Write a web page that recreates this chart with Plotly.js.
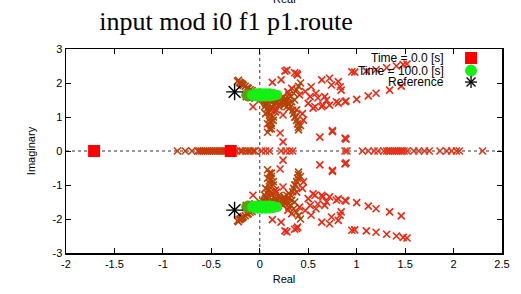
<!DOCTYPE html>
<html>
<head>
<meta charset="utf-8">
<script src="https://cdn.plot.ly/plotly-3.0.1.min.js"></script>
<style>html,body{margin:0;padding:0;background:#fff;}#chart{width:521px;height:294px;}</style>
</head>
<body>
<div id="chart"></div>
<script>
// ---- data ----
const startX = [-1.71, -0.30];
const startY = [0, 0];

const refX = [-0.26, -0.26];
const refY = [1.74, -1.74];

const greenX = [-0.08,-0.05,-0.05,-0.02,-0.02,0.02,0.02,0.06,0.06,0.10,0.10,0.14,0.14,0.18,0.00,0.04,0.08,0.12,
                -0.08,-0.05,-0.05,-0.02,-0.02,0.02,0.02,0.06,0.06,0.10,0.10,0.14,0.14,0.18,0.00,0.04,0.08,0.12];
const greenY = [1.65,1.61,1.69,1.60,1.70,1.60,1.70,1.60,1.70,1.60,1.70,1.62,1.68,1.65,1.65,1.65,1.65,1.65,
                -1.65,-1.61,-1.69,-1.60,-1.70,-1.60,-1.70,-1.60,-1.70,-1.60,-1.70,-1.62,-1.68,-1.65,-1.65,-1.65,-1.65,-1.65];

const oliveX = [-0.14,-0.12,-0.12,-0.14,-0.12,-0.12];
const oliveY = [1.64,1.60,1.68,-1.64,-1.60,-1.68];

const brownX = [-0.23,-0.21,-0.20,-0.18,-0.17,-0.15,-0.13,-0.12,-0.10,-0.08,-0.22,-0.19,0.00,0.04,0.05,0.06,0.07,0.08,0.09,0.10,0.10,0.11,0.12,0.12,0.10,0.13,0.15,0.18,0.20,0.20,0.22,0.25,0.28,0.30,0.32,0.35,0.38,0.40,0.42,0.30,0.32,0.34,0.35,0.37,0.38,0.39,0.40,0.40,0.25,0.15,0.08,0.14,
                0.02,0.06,0.10,0.14,0.18,0.22,0.26,0.16,0.20,0.05,0.12,0.06,0.14,0.08,0.28,0.33,0.36,-0.05,-0.10,-0.14,0.24,0.30,0.36,0.42,
                -0.23,-0.21,-0.20,-0.18,-0.17,-0.15,-0.13,-0.12,-0.10,-0.08,-0.22,-0.19,0.00,0.04,0.05,0.06,0.07,0.08,0.09,0.10,0.10,0.11,0.12,0.12,0.10,0.13,0.15,0.18,0.20,0.20,0.22,0.25,0.28,0.30,0.32,0.35,0.38,0.40,0.42,0.30,0.32,0.34,0.35,0.37,0.38,0.39,0.40,0.40,0.25,0.15,0.08,0.14,
                0.02,0.06,0.10,0.14,0.18,0.22,0.26,0.16,0.20,0.05,0.12,0.06,0.14,0.08,0.28,0.33,0.36,-0.05,-0.10,-0.14,0.24,0.30,0.36,0.42];
const brownY = [2.05,2.02,2.00,1.96,1.93,1.90,1.86,1.84,1.80,1.78,2.08,1.98,1.50,1.50,1.45,1.40,1.35,1.25,1.15,1.05,0.95,0.85,0.75,0.65,1.50,1.45,1.55,1.45,1.50,1.38,1.55,1.50,1.52,1.55,1.60,1.70,1.80,1.90,2.00,1.40,1.30,1.20,1.10,1.00,0.90,0.80,0.70,0.62,1.35,1.35,0.55,1.00,
                1.55,1.52,1.55,1.50,1.55,1.45,1.42,1.42,1.30,1.30,1.20,1.10,0.90,0.80,1.30,1.45,1.50,1.55,1.58,1.60,1.60,1.65,1.00,0.75,
                -2.05,-2.02,-2.00,-1.96,-1.93,-1.90,-1.86,-1.84,-1.80,-1.78,-2.08,-1.98,-1.50,-1.50,-1.45,-1.40,-1.35,-1.25,-1.15,-1.05,-0.95,-0.85,-0.75,-0.65,-1.50,-1.45,-1.55,-1.45,-1.50,-1.38,-1.55,-1.50,-1.52,-1.55,-1.60,-1.70,-1.80,-1.90,-2.00,-1.40,-1.30,-1.20,-1.10,-1.00,-0.90,-0.80,-0.70,-0.62,-1.35,-1.35,-0.55,-1.00,
                -1.55,-1.52,-1.55,-1.50,-1.55,-1.45,-1.42,-1.42,-1.30,-1.30,-1.20,-1.10,-0.90,-0.80,-1.30,-1.45,-1.50,-1.55,-1.58,-1.60,-1.60,-1.65,-1.00,-0.75];

const redX = [0.26,0.36,0.39,0.13,0.22,0.33,0.64,0.72,0.81,0.74,0.83,0.52,0.60,0.69,0.55,0.64,0.72,0.81,0.89,1.00,1.12,1.20,1.34,1.46,0.45,0.62,0.75,0.89,0.10,0.21,0.24,0.12,0.95,0.98,1.10,1.20,1.31,1.41,1.48,1.52,0.28,0.38,0.53,0.57,0.65,0.79,0.88,0.17,0.24,0.38,-0.07,0.29,0.41,0.67,0.47,0.50,0.30,0.16,0.44,0.58,0.84,0.75,0.88,
              0.26,0.36,0.39,0.13,0.22,0.33,0.64,0.72,0.81,0.74,0.83,0.52,0.60,0.69,0.55,0.64,0.72,0.81,0.89,1.00,1.12,1.20,1.34,1.46,0.45,0.62,0.75,0.89,0.10,0.21,0.24,0.12,0.95,0.98,1.10,1.20,1.31,1.41,1.48,1.52,0.28,0.38,0.53,0.57,0.65,0.79,0.88,0.17,0.24,0.38,-0.07,0.29,0.41,0.67,0.47,0.50,0.30,0.16,0.44,0.58,0.84,0.75,0.88];
const redY = [2.35,2.30,2.24,2.02,2.09,1.84,2.09,2.14,2.04,1.94,1.89,1.60,1.56,1.50,1.26,1.30,1.35,1.41,1.47,1.52,1.62,1.70,1.79,1.91,0.91,0.41,0.60,0.35,0.65,0.53,0.27,1.30,2.33,2.32,2.35,2.39,2.45,2.50,2.54,2.56,2.38,2.28,1.89,1.30,1.35,1.45,1.45,1.21,1.06,1.21,1.30,1.74,1.65,1.60,1.75,1.40,1.25,1.15,1.10,1.70,1.79,0.57,0.38,
              -2.35,-2.30,-2.24,-2.02,-2.09,-1.84,-2.09,-2.14,-2.04,-1.94,-1.89,-1.60,-1.56,-1.50,-1.26,-1.30,-1.35,-1.41,-1.47,-1.52,-1.62,-1.70,-1.79,-1.91,-0.91,-0.41,-0.60,-0.35,-0.65,-0.53,-0.27,-1.30,-2.33,-2.32,-2.35,-2.39,-2.45,-2.50,-2.54,-2.56,-2.38,-2.28,-1.89,-1.30,-1.35,-1.45,-1.45,-1.21,-1.06,-1.21,-1.30,-1.74,-1.65,-1.60,-1.75,-1.40,-1.25,-1.15,-1.10,-1.70,-1.79,-0.57,-0.38];

const axisLeftX = [-0.85,-0.77,-0.70,-0.64,-0.62,-0.60,-0.58,-0.56,-0.54,-0.52,-0.50,-0.48,-0.46,-0.44,-0.42,-0.40,-0.38,-0.36,-0.34,-0.24,-0.20,-0.18,-0.15,-0.12,-0.10,-0.07,-0.05];
const axisLeftY = [0,0,0,0,0,0,0,0,0,0,0,0,0,0,0,0,0,0,0,0,0,0,0,0,0,0,0];
const axisRightX = [0.02,0.06,0.10,0.22,0.27,0.31,0.34,0.88,0.90,1.06,1.12,1.18,1.22,1.28,1.31,1.33,1.35,1.37,1.39,1.41,1.43,1.45,1.47,1.49,1.52,1.59,1.64,1.70,1.75,1.86,1.93,1.98,2.03,2.06,2.30];
const axisRightY = [0,0,0,0,0,0,0,0,0,0,0,0,0,0,0,0,0,0,0,0,0,0,0,0,0,0,0,0,0,0,0,0,0,0,0];

const xTickVals = [-2,-1.5,-1,-0.5,0,0.5,1,1.5,2,2.5];
const xTickText = ['-2','-1.5','-1','-0.5','0','0.5','1','1.5','2','2.5'];
const yTickVals = [-3,-2,-1,0,1,2,3];
const yTickText = ['-3','-2','-1','0','1','2','3'];

const legendLabels = ['Time = 0.0 [s]','Time = 100.0 [s]','Reference'];

// ---- traces ----
const xm = (c) => ({symbol:'x-thin-open', size:7, line:{color:c, width:1.6}, color:c});
const traces = [
  {x:axisLeftX, y:axisLeftY, mode:'markers', marker:xm('#c83a0c'), showlegend:false, hoverinfo:'skip'},
  {x:axisRightX, y:axisRightY, mode:'markers', marker:xm('#e4341a'), showlegend:false, hoverinfo:'skip'},
  {x:redX, y:redY, mode:'markers', marker:xm('#f02610'), showlegend:false, hoverinfo:'skip'},
  {x:brownX, y:brownY, mode:'markers', marker:xm('#b64206'), showlegend:false, hoverinfo:'skip'},
  {x:oliveX, y:oliveY, mode:'markers', marker:{symbol:'circle', size:10, color:'#5aa010'}, showlegend:false, hoverinfo:'skip'},
  {x:greenX, y:greenY, mode:'markers', marker:{symbol:'circle', size:10, color:'#14f014'}, showlegend:false, hoverinfo:'skip'},
  {x:startX, y:startY, mode:'markers', marker:{symbol:'square', size:12, color:'#ff0000'}, showlegend:false, hoverinfo:'skip'},
  {x:refX, y:refY, mode:'markers', marker:{symbol:'asterisk-open', size:14, color:'#000', line:{color:'#000', width:1.4}}, showlegend:false, hoverinfo:'skip'}
];

// ---- layout ----
const F = 'Liberation Sans, Arial, sans-serif';
const ax = {
  showline:true, linecolor:'#000', linewidth:1.5, mirror:'ticks',
  ticks:'inside', ticklen:5, tickcolor:'#000', tickwidth:1,
  showgrid:false, zeroline:false, tickfont:{family:F, size:11, color:'#000'}
};
const legX = 0.8716, symX = 0.929;
const legY = [0.956, 0.894, 0.838];
const annotations = legendLabels.map((t,i)=>({
  text:t, xref:'paper', yref:'paper', x:legX, y:legY[i], xanchor:'right', yanchor:'middle',
  showarrow:false, font:{family:F, size:12, color:'#000'}
}));
annotations.push({text:'Real', xref:'paper', yref:'paper', x:0.5, y:1.245, xanchor:'center', yanchor:'middle', showarrow:false, font:{family:F, size:11, color:'#000'}});
annotations.push({text:'input mod i1 f1 p1.route', xref:'paper', yref:'paper', x:0.367, y:-0.25, xanchor:'center', yanchor:'middle', showarrow:false, font:{family:'Liberation Serif, Times New Roman, serif', size:26, color:'#000'}});

const px = (o)=>Object.assign({xref:'paper', yref:'paper', xsizemode:'pixel', ysizemode:'pixel', layer:'above'}, o);
const shapes = [
  {type:'line', xref:'x', yref:'paper', x0:0, x1:0, y0:0, y1:1, line:{color:'#333', width:1, dash:'dot'}, layer:'below'},
  {type:'line', xref:'paper', yref:'y', x0:0, x1:1, y0:0, y1:0, line:{color:'#333', width:1, dash:'dot'}, layer:'below'},
  px({type:'rect', xanchor:symX, yanchor:legY[0], x0:-6, x1:6, y0:-6, y1:6, fillcolor:'#ff0000', line:{width:0}}),
  px({type:'circle', xanchor:symX, yanchor:legY[1], x0:-6, x1:6, y0:-6, y1:6, fillcolor:'#14f014', line:{width:0}}),
  px({type:'line', xanchor:symX, yanchor:legY[2], x0:-6, x1:6, y0:0, y1:0, line:{color:'#000', width:1.3}}),
  px({type:'line', xanchor:symX, yanchor:legY[2], x0:0, x1:0, y0:-6, y1:6, line:{color:'#000', width:1.3}}),
  px({type:'line', xanchor:symX, yanchor:legY[2], x0:-4.5, x1:4.5, y0:-4.5, y1:4.5, line:{color:'#000', width:1.3}}),
  px({type:'line', xanchor:symX, yanchor:legY[2], x0:-4.5, x1:4.5, y0:4.5, y1:-4.5, line:{color:'#000', width:1.3}})
];

const layout = {
  width:521, height:294,
  margin:{l:66, r:19, t:49, b:41, pad:0},
  paper_bgcolor:'#fff', plot_bgcolor:'#fff',
  showlegend:false,
  title:{text:'input mod i0 f1 p1.route', x:0.434, xref:'container', xanchor:'center', y:0.93, yref:'container', yanchor:'middle',
         font:{family:'Liberation Serif, Times New Roman, serif', size:26, color:'#000'}},
  xaxis:Object.assign({}, ax, {range:[-2,2.5], tickvals:xTickVals, ticktext:xTickText,
         title:{text:'Real', standoff:6, font:{family:F, size:11, color:'#000'}}}),
  yaxis:Object.assign({}, ax, {range:[-3,3], tickvals:yTickVals, ticktext:yTickText,
         title:{text:'Imaginary', standoff:14, font:{family:F, size:11, color:'#000'}}}),
  annotations:annotations,
  shapes:shapes
};

Plotly.newPlot('chart', traces, layout, {staticPlot:true, displayModeBar:false});
</script>
</body>
</html>
